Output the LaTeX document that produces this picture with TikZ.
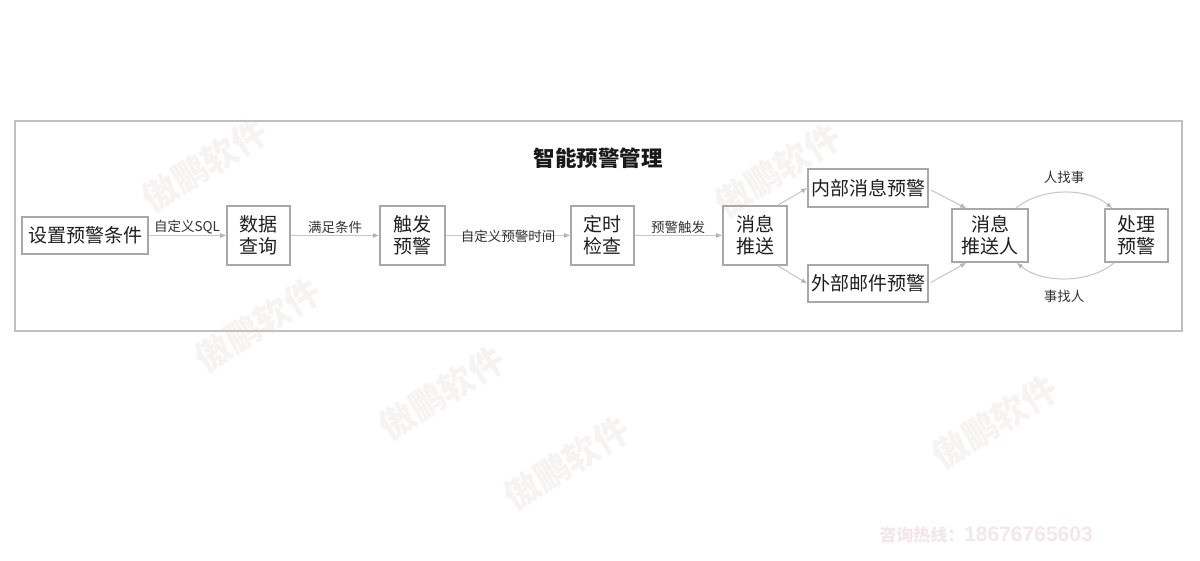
\documentclass[tikz,border=0pt]{standalone}
\usepackage{fontspec}
\newfontfamily\cjk{Noto Sans CJK SC}
\newfontfamily\arialb{Liberation Sans}
\usetikzlibrary{arrows.meta,calc}
\definecolor{boxgray}{HTML}{A8A8A8}
\definecolor{linegray}{HTML}{C6C6C6}
\definecolor{tipgray}{HTML}{B4B4B4}
\definecolor{framegray}{HTML}{C0C0C0}
\definecolor{wmgray}{HTML}{F6F3F3}
\definecolor{phonecol}{HTML}{F3E7EB}
\begin{document}
\begin{tikzpicture}[x=1pt,y=-1pt,
  stepbox/.style={draw=boxgray,line width=1.6pt,inner sep=0pt,align=center,
    font=\cjk\fontsize{19}{22}\selectfont,text=black!88},
  conn/.style={draw=linegray,line width=1pt,-{Latex[length=6pt,width=5pt,color=tipgray]}},
  elabel/.style={font=\cjk\fontsize{13.5}{15}\selectfont,text=black!80,inner sep=0pt},
  wm/.style={font=\cjk\bfseries\fontsize{35}{35}\selectfont,text=wmgray,rotate=32,inner sep=0pt},
  frm/.style={draw=framegray,line width=1.4pt,inner sep=0pt}]
\useasboundingbox (0,0) rectangle (1200,560);
\fill[white] (0,0) rectangle (1200,560);
% watermarks
\node[wm] (w1) at (205,165) {傲鹏软件};
\node[wm] (w2) at (778,170) {傲鹏软件};
\node[wm] (w3) at (258,325) {傲鹏软件};
\node[wm] (w4) at (442,393) {傲鹏软件};
\node[wm] (w5) at (567,463) {傲鹏软件};
\node[wm] (w6) at (995,422) {傲鹏软件};
\node[font=\cjk\bfseries\fontsize{17}{17}\selectfont,text=phonecol,inner sep=0pt] (phone) at (986,535) {咨询热线：{\arialb\bfseries\fontsize{21}{21}\selectfont 18676765603}};
% frame
\node[frm,minimum width=1167pt,minimum height=210pt] (frame) at (598.5,226) {};
\node[font=\cjk\bfseries\fontsize{21.5}{21.5}\selectfont,text=black!90,inner sep=0pt] (title) at (598,158) {智能预警管理};
% boxes
\node[stepbox,minimum width=126pt,minimum height=37pt] (b1) at (85,235.5) {设置预警条件};
\node[stepbox,minimum width=63pt,minimum height=59pt] (b2) at (258.5,235.5) {数据\\查询};
\node[stepbox,minimum width=65pt,minimum height=59pt] (b3) at (412.5,235.5) {触发\\预警};
\node[stepbox,minimum width=63pt,minimum height=59pt] (b4) at (602.5,235.5) {定时\\检查};
\node[stepbox,minimum width=64pt,minimum height=59pt] (b5) at (755,235.5) {消息\\推送};
\node[stepbox,minimum width=120pt,minimum height=38pt] (b6) at (868,188) {内部消息预警};
\node[stepbox,minimum width=120pt,minimum height=37pt] (b7) at (868,283.5) {外部邮件预警};
\node[stepbox,minimum width=76pt,minimum height=53pt] (b8) at (990,235.5) {消息\\推送人};
\node[stepbox,minimum width=63pt,minimum height=53pt] (b9) at (1136.5,235.5) {处理\\预警};
% connectors
\draw[conn] (b1) -- (b2);
\draw[conn] (b2) -- (b3);
\draw[conn] (b3) -- (b4);
\draw[conn] (b4) -- (b5);
\draw[conn] ($(b5.north east)+(-10,0)$) -- (b6.west);
\draw[conn] ($(b5.south east)+(-10,0)$) -- (b7.west);
\draw[conn] ($(b6.east)+(2,2)$) -- ($(b8.north west)+(15,0)$);
\draw[conn] ($(b7.east)+(2,-1)$) -- ($(b8.south west)+(15,0)$);
\draw[conn] ($(b8.north east)+(-13,0)$) .. controls +(25,-21) and +(-25,-21) .. ($(b9.north west)+(8,0)$);
\draw[conn] ($(b9.south west)+(10,0)$) .. controls +(-25,21) and +(25,21) .. ($(b8.south east)+(-12,0)$);
% labels
\node[elabel] (l1) at (187,227) {自定义SQL};
\node[elabel] (l2) at (335,227) {满足条件};
\node[elabel] (l3) at (508,236) {自定义预警时间};
\node[elabel] (l4) at (678,227) {预警触发};
\node[elabel] (l5) at (1064,177) {人找事};
\node[elabel] (l6) at (1064,296) {事找人};
\end{tikzpicture}
\end{document}
